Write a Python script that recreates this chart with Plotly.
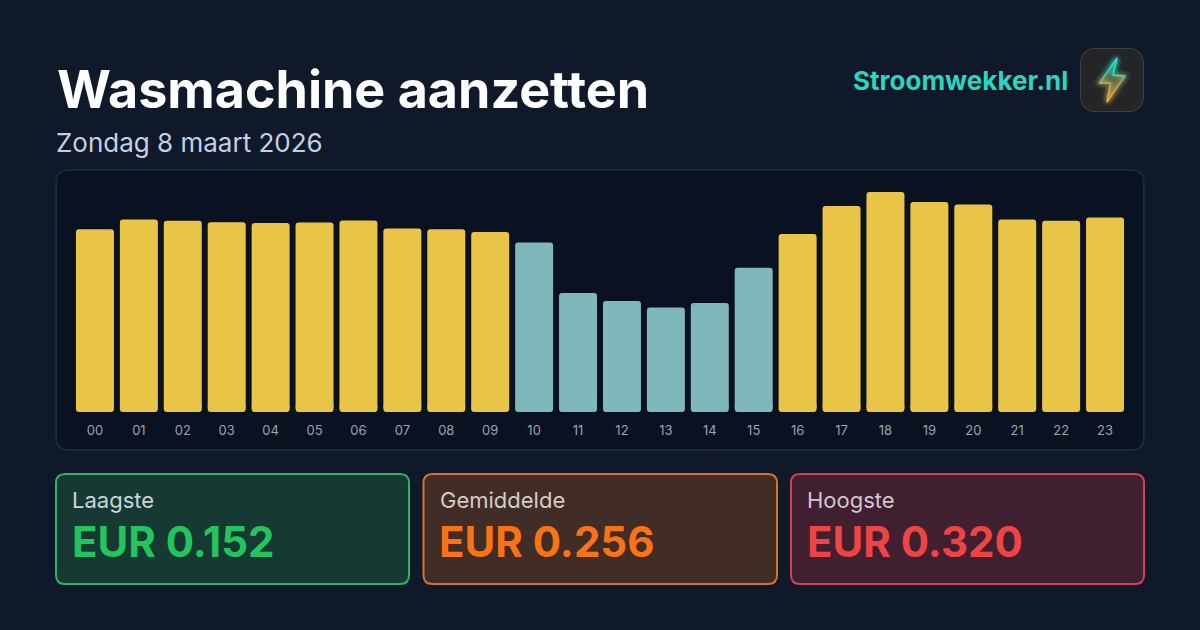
import base64
import plotly.graph_objects as go

# ---- data ----
hours = ["00","01","02","03","04","05","06","07","08","09","10","11",
         "12","13","14","15","16","17","18","19","20","21","22","23"]
prices = [0.266,0.280,0.278,0.276,0.275,0.2756,0.2785,0.267,0.266,0.262,0.2465,0.173,
          0.1615,0.152,0.1585,0.210,0.259,0.2996,0.320,0.3055,0.302,0.280,0.278,0.283]
cheap_hours = ["10","11","12","13","14","15"]
title_text = "Wasmachine aanzetten"
subtitle_text = "Zondag 8 maart 2026"
brand_text = "Stroomwekker.nl"
card_labels = ["Laagste","Gemiddelde","Hoogste"]
card_values = ["EUR 0.152","EUR 0.256","EUR 0.320"]

# ---- style ----
W, H = 1200, 630
FONT = "Inter"
BG = "#101929"
YELLOW, TEAL = "#e8c547", "#7fb8ba"
card_x = [(56,409),(423.5,777),(791,1144)]
card_fill = ["#163a33","#412c26","#402030"]
card_line = ["#2fb562","#d9722b","#d4434d"]
card_text = ["#22c55e","#f97316","#ef4444"]
card_lbl = ["#c9d6dc","#d3ccc8","#d3c8cf"]
LOW_TOP, HIGH_BASE = 0.012, 0.004  # the two rounded halves of a bar overlap between these

def X(p): return p / W
def Y(p): return 1 - p / H

def rrect(x0, y0, x1, y1, r, fill, line, lw):
    path = (f"M{X(x0+r)},{Y(y0)} L{X(x1-r)},{Y(y0)} Q{X(x1)},{Y(y0)} {X(x1)},{Y(y0+r)} "
            f"L{X(x1)},{Y(y1-r)} Q{X(x1)},{Y(y1)} {X(x1-r)},{Y(y1)} "
            f"L{X(x0+r)},{Y(y1)} Q{X(x0)},{Y(y1)} {X(x0)},{Y(y1-r)} "
            f"L{X(x0)},{Y(y0+r)} Q{X(x0)},{Y(y0)} {X(x0+r)},{Y(y0)} Z")
    return dict(type="path", xref="paper", yref="paper", path=path, fillcolor=fill,
                line=dict(color=line, width=lw), layer="below")

def label(x, y, text, size, color, weight=400, anchor="left"):
    return dict(xref="paper", yref="paper", x=X(x), y=Y(y), text=text, showarrow=False,
                xanchor=anchor, yanchor="middle", borderpad=0, borderwidth=0,
                font=dict(family=FONT, size=size, color=color, weight=weight))

BOLT = "M37 10 L19.5 35 L30.5 35 L27 54 L45 28 L33 27 Z"
icon_svg = f"""<svg xmlns="http://www.w3.org/2000/svg" width="64" height="64" viewBox="0 0 64 64">
<defs><linearGradient id="g" x1="0" y1="0" x2="0" y2="1">
<stop offset="0.25" stop-color="#2ee6cf"/><stop offset="0.55" stop-color="#a8b56a"/><stop offset="1" stop-color="#ffae3a"/></linearGradient>
<linearGradient id="f" x1="0" y1="0" x2="0" y2="1">
<stop offset="0.2" stop-color="#2dd4bf" stop-opacity="0.22"/><stop offset="0.6" stop-color="#c9a24a" stop-opacity="0.45"/><stop offset="1" stop-color="#f5a63a" stop-opacity="0.35"/></linearGradient>
<filter id="b" x="-60%" y="-40%" width="220%" height="180%"><feGaussianBlur stdDeviation="2.5"/></filter></defs>
<rect x="0.5" y="0.5" width="63" height="63" rx="13" fill="#232527" stroke="#3a3f45"/>
<path d="{BOLT}" fill="none" stroke="url(#g)" stroke-width="3" filter="url(#b)"/>
<path d="{BOLT}" fill="url(#f)" stroke="url(#g)" stroke-width="1.3" stroke-linejoin="round"/>
</svg>"""
icon_uri = "data:image/svg+xml;base64," + base64.b64encode(icon_svg.encode()).decode()

colors = [TEAL if h in cheap_hours else YELLOW for h in hours]
# Plotly rounds a bar's far end, so each bar is two overlapping halves growing in opposite directions.
fig = go.Figure()
fig.add_bar(x=hours, y=[p - HIGH_BASE for p in prices], base=HIGH_BASE, width=0.865, hoverinfo="skip",
            marker=dict(color=colors, line_width=0, cornerradius=3))
fig.add_bar(x=hours, y=[-LOW_TOP] * len(hours), base=LOW_TOP, width=0.865, hoverinfo="skip",
            marker=dict(color=colors, line_width=0, cornerradius=3))

shapes = [rrect(56, 170, 1144, 450, 13, "#0a1120", "#1d2738", 2)]
annotations = [
    label(56.5, 90, title_text, 52, "#ffffff", 700),
    label(56, 142.5, subtitle_text, 26, "#c5d0e2"),
    label(1068, 81, brand_text, 26, "#2dd4bf", 700, "right"),
]
for i, (x0, x1) in enumerate(card_x):
    shapes.append(rrect(x0, 474, x1, 584, 9, card_fill[i], card_line[i], 2))
    annotations.append(label(x0 + 16, 500.5, card_labels[i], 22, card_lbl[i]))
    annotations.append(label(x0 + 15.5, 541, card_values[i], 42, card_text[i], 700))

fig.update_layout(
    width=W, height=H, autosize=False, margin=dict(l=0, r=0, t=0, b=0),
    paper_bgcolor=BG, plot_bgcolor="rgba(0,0,0,0)", showlegend=False, barmode="overlay",
    shapes=shapes, annotations=annotations,
    images=[dict(source=icon_uri, xref="paper", yref="paper", x=X(1080), y=Y(48),
                 sizex=64/W, sizey=64/H, xanchor="left", yanchor="top", sizing="stretch", layer="above")],
    xaxis=dict(domain=[X(73), X(1127)], range=[-0.5, 23.5], type="category", showgrid=False,
               zeroline=False, showline=False, ticks="", ticklabelstandoff=9,
               tickfont=dict(family=FONT, size=13, color="#99a3b3"), fixedrange=True),
    yaxis=dict(domain=[Y(412), Y(192)], range=[0, 0.32], visible=False, fixedrange=True),
)
fig.write_html("out.html", config={"displayModeBar": False},
               post_script="document.body.style.margin='0';document.body.style.overflow='hidden';document.body.style.background='%s';" % BG)
